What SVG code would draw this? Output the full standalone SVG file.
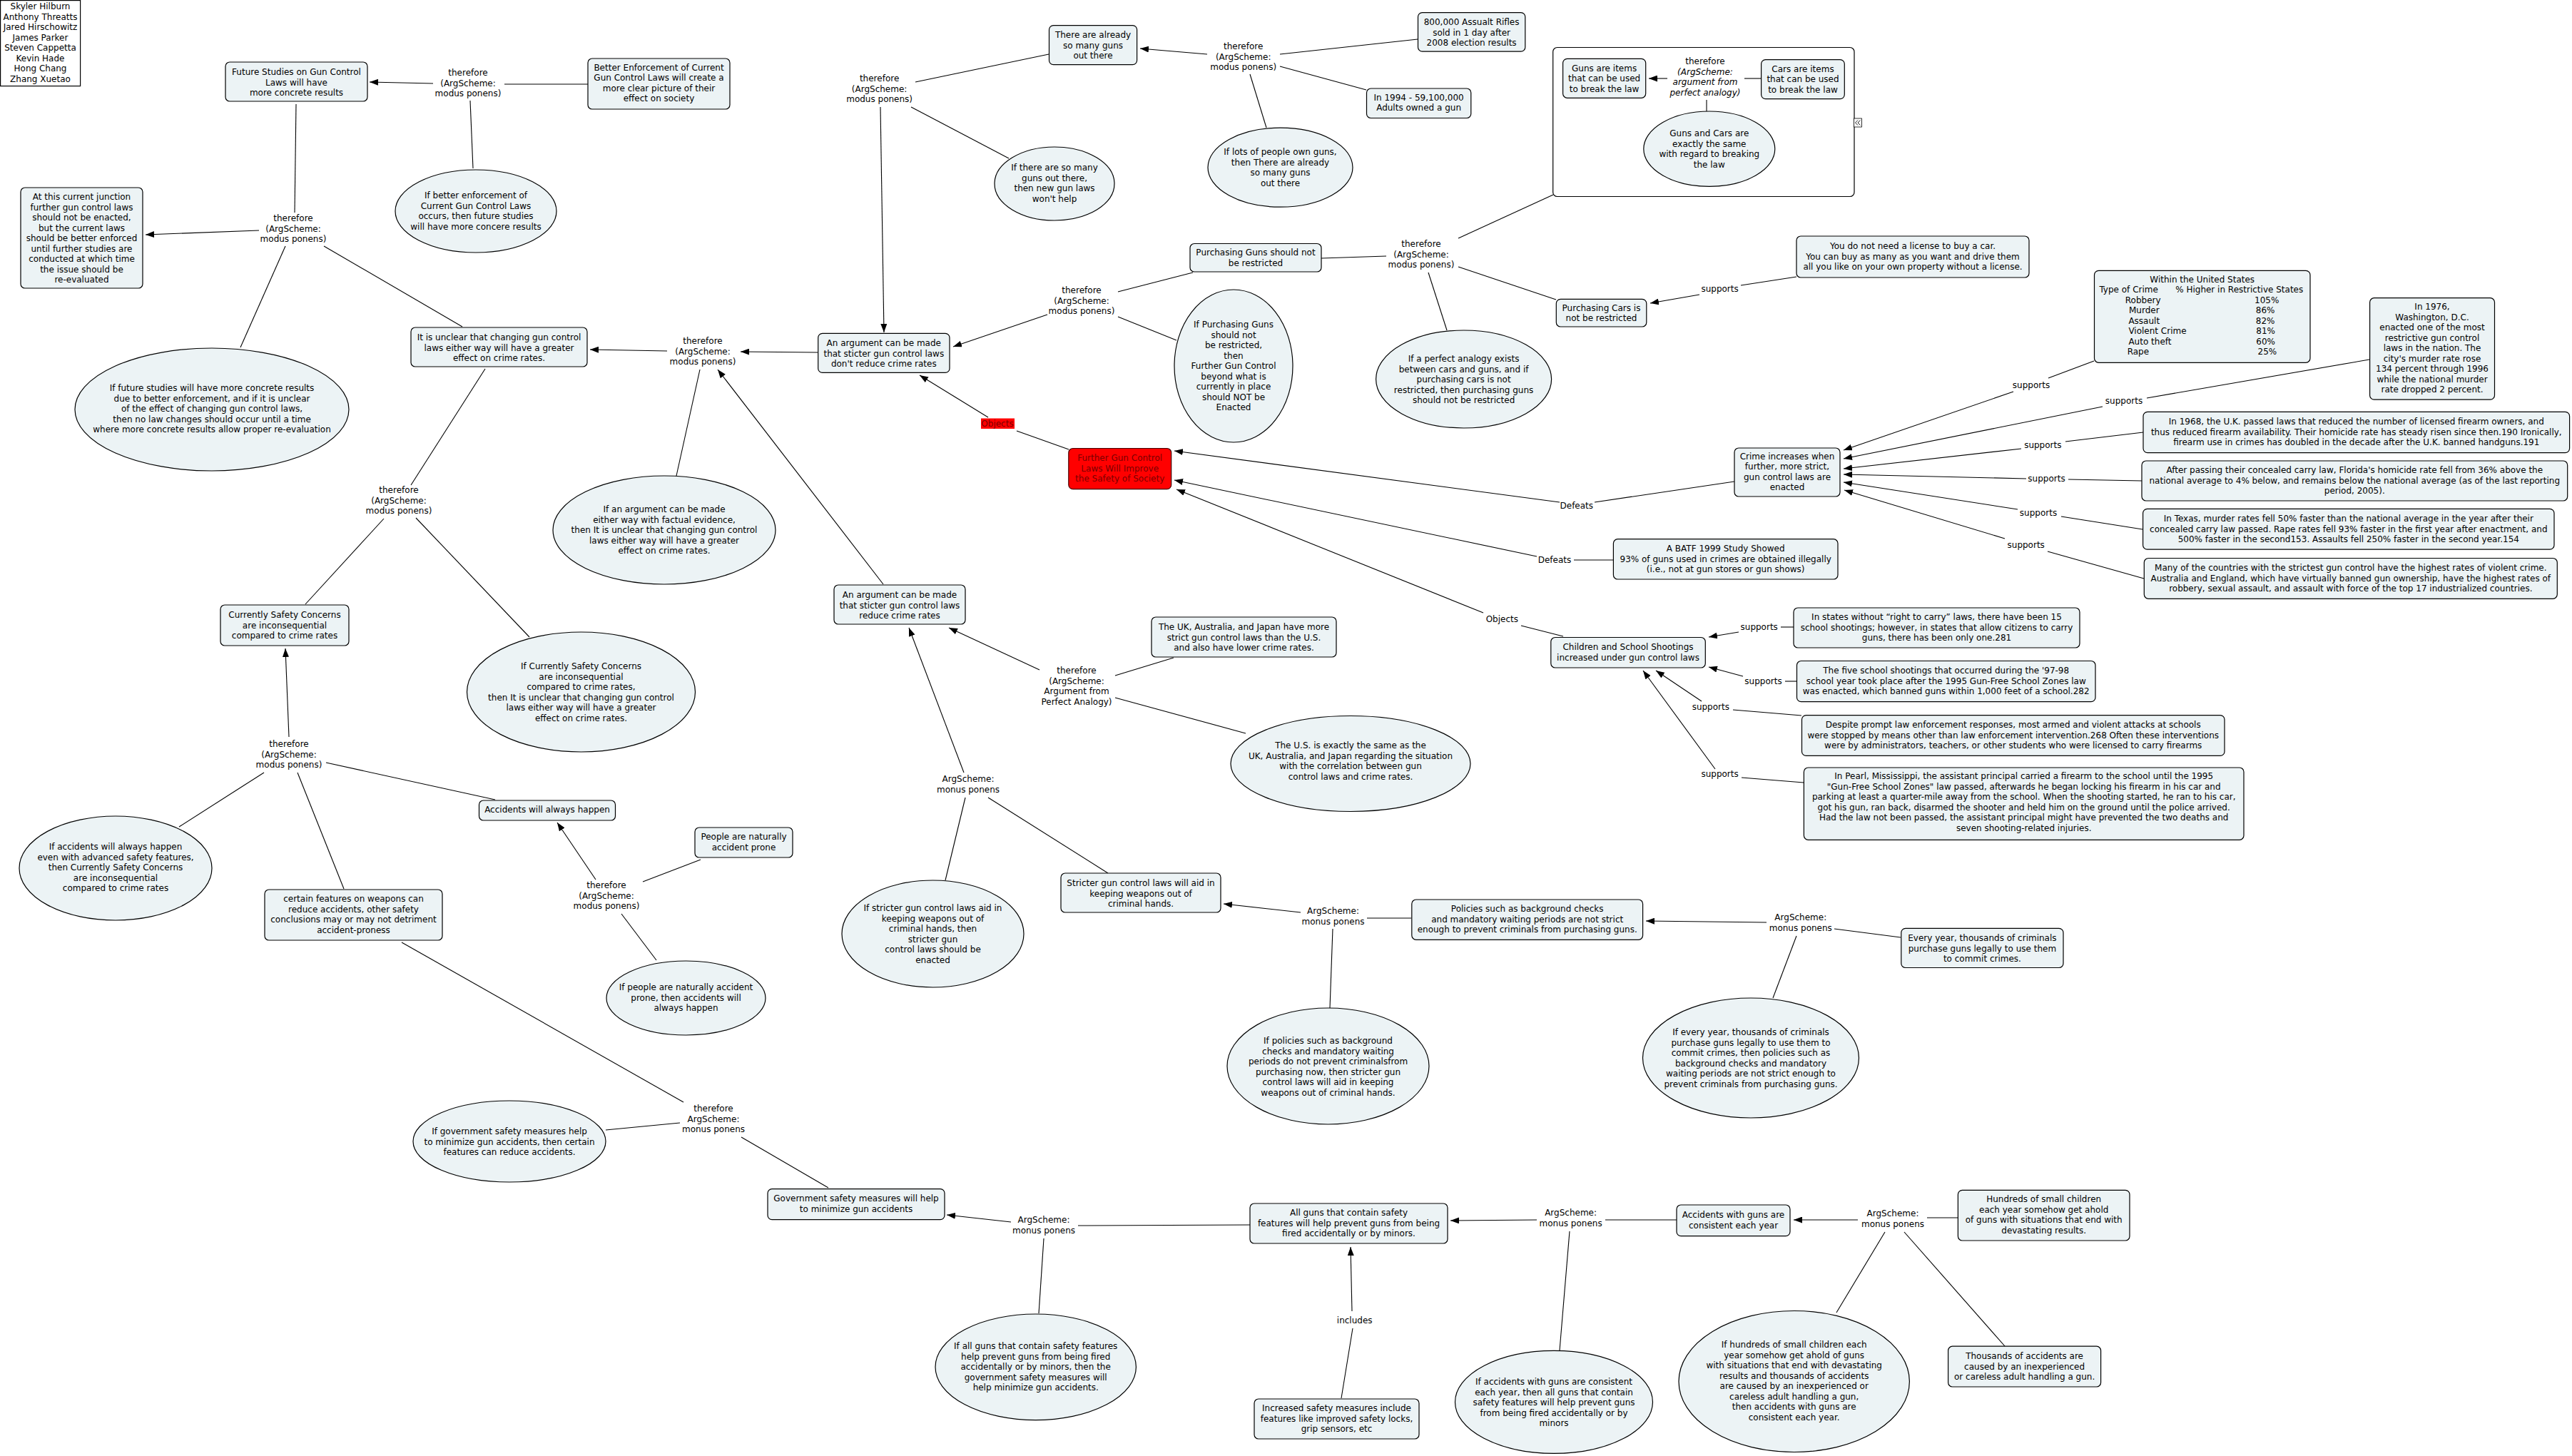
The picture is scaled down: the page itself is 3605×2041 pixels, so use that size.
<svg xmlns="http://www.w3.org/2000/svg" width="3605" height="2041" viewBox="0 0 3605 2041">
<defs>
<marker id="ah" viewBox="0 0 12 9" refX="12" refY="4.5" markerWidth="12" markerHeight="9" markerUnits="userSpaceOnUse" orient="auto"><path d="M0,0 L12,4.5 L0,9 z" fill="#000"/></marker>
</defs>
<style>
.n{fill:#ECF3F5;stroke:#000;stroke-width:1.2}
.w{fill:#fff;stroke:#000;stroke-width:1.2}
.r{fill:#FF0000;stroke:#400;stroke-width:1.2}
text{font-family:"DejaVu Sans",Verdana,sans-serif;font-size:12px;fill:#000;text-anchor:middle}
.s{text-anchor:start}
.i{font-style:italic}
.dr{fill:#7A0000}
#connectors line{stroke:#000;stroke-width:1.1;fill:none}
#connectors .a{marker-end:url(#ah)}
</style>
<rect x="0" y="0" width="3605" height="2041" fill="#fff"/>

<g id="n_container"><rect class="w" x="2176.7" y="66.5" width="422.3" height="209" rx="6"/>
<rect x="2598.5" y="166" width="11" height="12" fill="#fff" stroke="#000" stroke-width="0.8"/>
<path d="M2604,168.5 L2600.5,172 L2604,175.5 M2607.5,168.5 L2604,172 L2607.5,175.5" fill="none" stroke="#000" stroke-width="0.9"/></g>

<g id="connectors">
<line class="a" x1="607" y1="117" x2="518" y2="115"/>
<line x1="824" y1="118" x2="707" y2="118"/>
<line x1="663" y1="236" x2="659" y2="141"/>
<line x1="415" y1="146" x2="413" y2="298"/>
<line class="a" x1="363" y1="323" x2="204" y2="329"/>
<line x1="400" y1="345" x2="337" y2="487"/>
<line x1="454" y1="345" x2="648" y2="458"/>
<line class="a" x1="935" y1="492" x2="827" y2="490"/>
<line x1="680" y1="517" x2="576" y2="680"/>
<line x1="538" y1="727" x2="428" y2="847"/>
<line x1="583" y1="726" x2="742" y2="893"/>
<line class="a" x1="405" y1="1033" x2="400" y2="909"/>
<line x1="370" y1="1083" x2="251" y2="1159"/>
<line x1="417" y1="1083" x2="482" y2="1246"/>
<line x1="457" y1="1069" x2="694" y2="1121"/>
<line class="a" x1="835" y1="1233" x2="781" y2="1153"/>
<line x1="901" y1="1236" x2="982" y2="1205"/>
<line x1="871" y1="1281" x2="920" y2="1346"/>
<line x1="563" y1="1321" x2="958" y2="1545"/>
<line x1="953" y1="1574" x2="849" y2="1584"/>
<line x1="1039" y1="1594" x2="1161" y2="1665"/>
<line class="a" x1="1417" y1="1713" x2="1327" y2="1703"/>
<line x1="1752" y1="1717" x2="1511" y2="1718"/>
<line x1="1463" y1="1736" x2="1456" y2="1841"/>
<line class="a" x1="2154" y1="1710" x2="2033" y2="1711"/>
<line x1="2350" y1="1710" x2="2250" y2="1710"/>
<line x1="2200" y1="1726" x2="2186" y2="1893"/>
<line class="a" x1="1895" y1="1838" x2="1893" y2="1748"/>
<line x1="1880" y1="1960" x2="1896" y2="1862"/>
<line class="a" x1="2604" y1="1710" x2="2514" y2="1710"/>
<line x1="2744" y1="1707" x2="2701" y2="1707"/>
<line x1="2642" y1="1727" x2="2574" y2="1840"/>
<line x1="2669" y1="1727" x2="2810" y2="1887"/>
<line class="a" x1="1823" y1="1279" x2="1715" y2="1267"/>
<line x1="1916" y1="1287" x2="1978" y2="1287"/>
<line x1="1868" y1="1302" x2="1864" y2="1413"/>
<line class="a" x1="2476" y1="1293" x2="2307" y2="1291"/>
<line x1="2664" y1="1314" x2="2571" y2="1302"/>
<line x1="2518" y1="1312" x2="2485" y2="1399"/>
<line class="a" x1="1351" y1="1083" x2="1274" y2="880"/>
<line x1="1353" y1="1118" x2="1325" y2="1234"/>
<line x1="1385" y1="1118" x2="1553" y2="1224"/>
<line class="a" x1="1457" y1="939" x2="1330" y2="880"/>
<line x1="1645" y1="922" x2="1563" y2="947"/>
<line x1="1563" y1="978" x2="1746" y2="1028"/>
<line class="a" x1="1238" y1="819" x2="1006" y2="518"/>
<line class="a" x1="1146" y1="494" x2="1038" y2="493"/>
<line x1="981" y1="518" x2="948" y2="667"/>
<line x1="1283" y1="115" x2="1470" y2="76"/>
<line x1="1277" y1="150" x2="1414" y2="222"/>
<line class="a" x1="1234" y1="150" x2="1239" y2="466"/>
<line class="a" x1="1692" y1="76" x2="1598" y2="68"/>
<line x1="1987" y1="55" x2="1794" y2="76"/>
<line x1="1915" y1="126" x2="1794" y2="93"/>
<line x1="1752" y1="104" x2="1775" y2="179"/>
<line class="a" x1="1468" y1="441" x2="1336" y2="486"/>
<line x1="1672" y1="382" x2="1567" y2="409"/>
<line x1="1567" y1="444" x2="1649" y2="477"/>
<line class="a" x1="1385" y1="585" x2="1289" y2="526"/>
<line x1="1498" y1="630" x2="1425" y2="604"/>
<line x1="1943" y1="359" x2="1852" y2="362"/>
<line x1="2044" y1="334" x2="2177" y2="273"/>
<line x1="2044" y1="374" x2="2181" y2="420"/>
<line x1="2002" y1="382" x2="2028" y2="463"/>
<line class="a" x1="2382" y1="413" x2="2313" y2="425"/>
<line x1="2518" y1="388" x2="2440" y2="400"/>
<line class="a" x1="2337" y1="110" x2="2311" y2="110"/>
<line x1="2468" y1="110" x2="2445" y2="110"/>
<line x1="2392" y1="140" x2="2392" y2="156"/>
<line x1="2431" y1="675" x2="2235" y2="704"/>
<line class="a" x1="2186" y1="704" x2="1646" y2="632"/>
<line x1="2261" y1="785" x2="2206" y2="785"/>
<line class="a" x1="2154" y1="780" x2="1646" y2="673"/>
<line x1="2191" y1="892" x2="2132" y2="877"/>
<line class="a" x1="2079" y1="859" x2="1649" y2="686"/>
<line x1="2935" y1="506" x2="2871" y2="530"/>
<line class="a" x1="2822" y1="549" x2="2584" y2="631"/>
<line x1="3321" y1="504" x2="3009" y2="558"/>
<line class="a" x1="2947" y1="570" x2="2584" y2="643"/>
<line x1="3004" y1="606" x2="2895" y2="619"/>
<line class="a" x1="2833" y1="629" x2="2584" y2="657"/>
<line x1="3002" y1="674" x2="2899" y2="672"/>
<line class="a" x1="2840" y1="671" x2="2584" y2="665"/>
<line x1="3003" y1="742" x2="2889" y2="724"/>
<line class="a" x1="2828" y1="714" x2="2584" y2="676"/>
<line x1="3005" y1="811" x2="2870" y2="773"/>
<line class="a" x1="2810" y1="755" x2="2585" y2="687"/>
<line x1="2514" y1="879" x2="2496" y2="879"/>
<line class="a" x1="2437" y1="886" x2="2395" y2="893"/>
<line x1="2518" y1="955" x2="2502" y2="955"/>
<line class="a" x1="2443" y1="948" x2="2395" y2="935"/>
<line x1="2525" y1="1003" x2="2429" y2="995"/>
<line class="a" x1="2385" y1="983" x2="2321" y2="940"/>
<line x1="2528" y1="1097" x2="2441" y2="1090"/>
<line class="a" x1="2404" y1="1078" x2="2303" y2="940"/>
</g>

<g id="labels">
<text x="656" y="106.2">therefore<tspan x="656" dy="14.5">(ArgScheme:</tspan><tspan x="656" dy="14.5">modus ponens)</tspan></text>
<text x="411" y="310">therefore<tspan x="411" dy="14.5">(ArgScheme:</tspan><tspan x="411" dy="14.5">modus ponens)</tspan></text>
<text x="559" y="691">therefore<tspan x="559" dy="14.5">(ArgScheme:</tspan><tspan x="559" dy="14.5">modus ponens)</tspan></text>
<text x="405" y="1047">therefore<tspan x="405" dy="14.5">(ArgScheme:</tspan><tspan x="405" dy="14.5">modus ponens)</tspan></text>
<text x="850" y="1245">therefore<tspan x="850" dy="14.5">(ArgScheme:</tspan><tspan x="850" dy="14.5">modus ponens)</tspan></text>
<text x="1000" y="1558">therefore<tspan x="1000" dy="14.5">ArgScheme:</tspan><tspan x="1000" dy="14.5">monus ponens</tspan></text>
<text x="1463" y="1714">ArgScheme:<tspan x="1463" dy="14.5">monus ponens</tspan></text>
<text x="2201.6" y="1704">ArgScheme:<tspan x="2201.6" dy="14.5">monus ponens</tspan></text>
<text x="2653" y="1705">ArgScheme:<tspan x="2653" dy="14.5">monus ponens</tspan></text>
<text x="1898.7" y="1855">includes</text>
<text x="1868.5" y="1281">ArgScheme:<tspan x="1868.5" dy="14.5">monus ponens</tspan></text>
<text x="2523.8" y="1290">ArgScheme:<tspan x="2523.8" dy="14.5">monus ponens</tspan></text>
<text x="1357" y="1096">ArgScheme:<tspan x="1357" dy="14.5">monus ponens</tspan></text>
<text x="1509" y="944">therefore<tspan x="1509" dy="14.5">(ArgScheme:</tspan><tspan x="1509" dy="14.5">Argument from</tspan><tspan x="1509" dy="14.5">Perfect Analogy)</tspan></text>
<text x="985" y="482">therefore<tspan x="985" dy="14.5">(ArgScheme:</tspan><tspan x="985" dy="14.5">modus ponens)</tspan></text>
<text x="1232.6" y="114">therefore<tspan x="1232.6" dy="14.5">(ArgScheme:</tspan><tspan x="1232.6" dy="14.5">modus ponens)</tspan></text>
<text x="1742.7" y="69">therefore<tspan x="1742.7" dy="14.5">(ArgScheme:</tspan><tspan x="1742.7" dy="14.5">modus ponens)</tspan></text>
<text x="1516" y="411">therefore<tspan x="1516" dy="14.5">(ArgScheme:</tspan><tspan x="1516" dy="14.5">modus ponens)</tspan></text>
<rect x="1375" y="586.5" width="47" height="14.5" fill="#FF0000"/>
<text x="1398" y="597.5" class="dr">Objects</text>
<text x="1992" y="346">therefore<tspan x="1992" dy="14.5">(ArgScheme:</tspan><tspan x="1992" dy="14.5">modus ponens)</tspan></text>
<text x="2390" y="90">therefore<tspan x="2390" dy="14.5" class="i">(ArgScheme:</tspan><tspan x="2390" dy="14.5" class="i">argument from</tspan><tspan x="2390" dy="14.5" class="i">perfect analogy)</tspan></text>
<text x="2410.6" y="409.3">supports</text>
<text x="2209.8" y="713">Defeats</text>
<text x="2179" y="788.7">Defeats</text>
<text x="2105.3" y="872">Objects</text>
<text x="2847" y="543.6">supports</text>
<text x="2977" y="566.4">supports</text>
<text x="2863.3" y="627.6">supports</text>
<text x="2868.5" y="674.7">supports</text>
<text x="2857" y="722.7">supports</text>
<text x="2839.7" y="768">supports</text>
<text x="2465.7" y="883.4">supports</text>
<text x="2471.5" y="958.6">supports</text>
<text x="2397.8" y="994.7">supports</text>
<text x="2410.6" y="1089.3">supports</text>
</g>

<g id="n_authors"><rect class="w" x="0.6" y="0.6" width="112" height="120"/>
<text x="56.5" y="13">Skyler Hilburn<tspan x="56.5" dy="14.5">Anthony Threatts</tspan><tspan x="56.5" dy="14.5">Jared Hirschowitz</tspan><tspan x="56.5" dy="14.5">James Parker</tspan><tspan x="56.5" dy="14.5">Steven Cappetta</tspan><tspan x="56.5" dy="14.5">Kevin Hade</tspan><tspan x="56.5" dy="14.5">Hong Chang</tspan><tspan x="56.5" dy="14.5">Zhang Xuetao</tspan></text></g>

<g id="n_future"><rect class="n" x="316" y="87" width="199" height="55" rx="6"/>
<text x="415.5" y="105">Future Studies on Gun Control<tspan x="415.5" dy="14.5">Laws will have</tspan><tspan x="415.5" dy="14.5">more concrete results</tspan></text></g>

<g id="n_better"><rect class="n" x="824" y="82" width="199" height="71" rx="6"/>
<text x="923.5" y="98.9">Better Enforcement of Current<tspan x="923.5" dy="14.5">Gun Control Laws will create a</tspan><tspan x="923.5" dy="14.5">more clear picture of their</tspan><tspan x="923.5" dy="14.5">effect on society</tspan></text></g>

<g id="n_ell_better"><ellipse class="n" cx="667" cy="296" rx="113" ry="58"/>
<text x="667" y="278.3">If better enforcement of<tspan x="667" dy="14.5">Current Gun Control Laws</tspan><tspan x="667" dy="14.5">occurs, then future studies</tspan><tspan x="667" dy="14.5">will have more concere results</tspan></text></g>

<g id="n_atthis"><rect class="n" x="29" y="263" width="171" height="141" rx="6"/>
<text x="114.5" y="280">At this current junction<tspan x="114.5" dy="14.5">further gun control laws</tspan><tspan x="114.5" dy="14.5">should not be enacted,</tspan><tspan x="114.5" dy="14.5">but the current laws</tspan><tspan x="114.5" dy="14.5">should be better enforced</tspan><tspan x="114.5" dy="14.5">until further studies are</tspan><tspan x="114.5" dy="14.5">conducted at which time</tspan><tspan x="114.5" dy="14.5">the issue should be</tspan><tspan x="114.5" dy="14.5">re-evaluated</tspan></text></g>

<g id="n_ell_future"><ellipse class="n" cx="297" cy="574" rx="192" ry="86"/>
<text x="297" y="548.3">If future studies will have more concrete results<tspan x="297" dy="14.5">due to better enforcement, and if it is unclear</tspan><tspan x="297" dy="14.5">of the effect of changing gun control laws,</tspan><tspan x="297" dy="14.5">then no law changes should occur until a time</tspan><tspan x="297" dy="14.5">where more concrete results allow proper re-evaluation</tspan></text></g>

<g id="n_unclear"><rect class="n" x="576" y="459" width="247" height="55" rx="6"/>
<text x="699.5" y="477">It is unclear that changing gun control<tspan x="699.5" dy="14.5">laws either way will have a greater</tspan><tspan x="699.5" dy="14.5">effect on crime rates.</tspan></text></g>

<g id="n_ell_argument"><ellipse class="n" cx="931" cy="743" rx="156" ry="76"/>
<text x="931" y="718">If an argument can be made<tspan x="931" dy="14.5">either way with factual evidence,</tspan><tspan x="931" dy="14.5">then It is unclear that changing gun control</tspan><tspan x="931" dy="14.5">laws either way will have a greater</tspan><tspan x="931" dy="14.5">effect on crime rates.</tspan></text></g>

<g id="n_currently"><rect class="n" x="309" y="848" width="180" height="57" rx="6"/>
<text x="399" y="866">Currently Safety Concerns<tspan x="399" dy="14.5">are inconsequential</tspan><tspan x="399" dy="14.5">compared to crime rates</tspan></text></g>

<g id="n_ell_currently"><ellipse class="n" cx="814.5" cy="970" rx="160" ry="84"/>
<text x="814.5" y="938">If Currently Safety Concerns<tspan x="814.5" dy="14.5">are inconsequential</tspan><tspan x="814.5" dy="14.5">compared to crime rates,</tspan><tspan x="814.5" dy="14.5">then It is unclear that changing gun control</tspan><tspan x="814.5" dy="14.5">laws either way will have a greater</tspan><tspan x="814.5" dy="14.5">effect on crime rates.</tspan></text></g>

<g id="n_ell_accidents"><ellipse class="n" cx="162" cy="1217" rx="135" ry="73"/>
<text x="162" y="1191.3">If accidents will always happen<tspan x="162" dy="14.5">even with advanced safety features,</tspan><tspan x="162" dy="14.5">then Currently Safety Concerns</tspan><tspan x="162" dy="14.5">are inconsequential</tspan><tspan x="162" dy="14.5">compared to crime rates</tspan></text></g>

<g id="n_certain"><rect class="n" x="371" y="1247" width="249" height="71" rx="6"/>
<text x="495.5" y="1264">certain features on weapons can<tspan x="495.5" dy="14.5">reduce accidents, other safety</tspan><tspan x="495.5" dy="14.5">conclusions may or may not detriment</tspan><tspan x="495.5" dy="14.5">accident-proness</tspan></text></g>

<g id="n_always"><rect class="n" x="671.5" y="1122" width="191" height="28" rx="6"/>
<text x="767" y="1139">Accidents will always happen</text></g>

<g id="n_people"><rect class="n" x="974" y="1160" width="137" height="42" rx="6"/>
<text x="1042.5" y="1177.3">People are naturally<tspan x="1042.5" dy="14.5">accident prone</tspan></text></g>

<g id="n_ell_people"><ellipse class="n" cx="961.5" cy="1399" rx="111.5" ry="52"/>
<text x="961.5" y="1388.2">If people are naturally accident<tspan x="961.5" dy="14.5">prone, then accidents will</tspan><tspan x="961.5" dy="14.5">always happen</tspan></text></g>

<g id="n_ell_gov"><ellipse class="n" cx="714" cy="1600" rx="135" ry="57"/>
<text x="714" y="1590">If government safety measures help<tspan x="714" dy="14.5">to minimize gun accidents, then certain</tspan><tspan x="714" dy="14.5">features can reduce accidents.</tspan></text></g>

<g id="n_gov"><rect class="n" x="1076" y="1666.6" width="248" height="43" rx="6"/>
<text x="1200" y="1684">Government safety measures will help<tspan x="1200" dy="14.5">to minimize gun accidents</tspan></text></g>

<g id="n_ell_allguns"><ellipse class="n" cx="1451.7" cy="1916.3" rx="140.7" ry="74.3"/>
<text x="1451.7" y="1891">If all guns that contain safety features<tspan x="1451.7" dy="14.5">help prevent guns from being fired</tspan><tspan x="1451.7" dy="14.5">accidentally or by minors, then the</tspan><tspan x="1451.7" dy="14.5">government safety measures will</tspan><tspan x="1451.7" dy="14.5">help minimize gun accidents.</tspan></text></g>

<g id="n_allguns"><rect class="n" x="1752" y="1687" width="277" height="56" rx="6"/>
<text x="1890.5" y="1704.3">All guns that contain safety<tspan x="1890.5" dy="14.5">features will help prevent guns from being</tspan><tspan x="1890.5" dy="14.5">fired accidentally or by minors.</tspan></text></g>

<g id="n_increased"><rect class="n" x="1758" y="1961" width="231" height="56" rx="6"/>
<text x="1873.5" y="1978">Increased safety measures include<tspan x="1873.5" dy="14.5">features like improved safety locks,</tspan><tspan x="1873.5" dy="14.5">grip sensors, etc</tspan></text></g>

<g id="n_accconsistent"><rect class="n" x="2350" y="1689" width="159" height="43.6" rx="6"/>
<text x="2429.5" y="1707.3">Accidents with guns are<tspan x="2429.5" dy="14.5">consistent each year</tspan></text></g>

<g id="n_ell_acc"><ellipse class="n" cx="2178" cy="1965.4" rx="138.5" ry="72"/>
<text x="2178" y="1941">If accidents with guns are consistent<tspan x="2178" dy="14.5">each year, then all guns that contain</tspan><tspan x="2178" dy="14.5">safety features will help prevent guns</tspan><tspan x="2178" dy="14.5">from being fired accidentally or by</tspan><tspan x="2178" dy="14.5">minors</tspan></text></g>

<g id="n_ell_hundreds"><ellipse class="n" cx="2514.7" cy="1936.5" rx="161.7" ry="99"/>
<text x="2514.7" y="1889">If hundreds of small children each<tspan x="2514.7" dy="14.5">year somehow get ahold of guns</tspan><tspan x="2514.7" dy="14.5">with situations that end with devastating</tspan><tspan x="2514.7" dy="14.5">results and thousands of accidents</tspan><tspan x="2514.7" dy="14.5">are caused by an inexperienced or</tspan><tspan x="2514.7" dy="14.5">careless adult handling a gun,</tspan><tspan x="2514.7" dy="14.5">then accidents with guns are</tspan><tspan x="2514.7" dy="14.5">consistent each year.</tspan></text></g>

<g id="n_hundreds"><rect class="n" x="2744.4" y="1668.4" width="240.6" height="70.6" rx="6"/>
<text x="2864.7" y="1685.3">Hundreds of small children<tspan x="2864.7" dy="14.5">each year somehow get ahold</tspan><tspan x="2864.7" dy="14.5">of guns with situations that end with</tspan><tspan x="2864.7" dy="14.5">devastating results.</tspan></text></g>

<g id="n_thousands"><rect class="n" x="2730.6" y="1887.2" width="214" height="56.8" rx="6"/>
<text x="2837.6" y="1905">Thousands of accidents are<tspan x="2837.6" dy="14.5">caused by an inexperienced</tspan><tspan x="2837.6" dy="14.5">or careless adult handling a gun.</tspan></text></g>

<g id="n_ell_policies"><ellipse class="n" cx="1861.5" cy="1494.5" rx="141.5" ry="81.5"/>
<text x="1861.5" y="1463.3">If policies such as background<tspan x="1861.5" dy="14.5">checks and mandatory waiting</tspan><tspan x="1861.5" dy="14.5">periods do not prevent criminalsfrom</tspan><tspan x="1861.5" dy="14.5">purchasing now, then stricter gun</tspan><tspan x="1861.5" dy="14.5">control laws will aid in keeping</tspan><tspan x="1861.5" dy="14.5">weapons out of criminal hands.</tspan></text></g>

<g id="n_policies"><rect class="n" x="1978.8" y="1261" width="323.8" height="56.3" rx="6"/>
<text x="2140.7" y="1278.3">Policies such as background checks<tspan x="2140.7" dy="14.5">and mandatory waiting periods are not strict</tspan><tspan x="2140.7" dy="14.5">enough to prevent criminals from purchasing guns.</tspan></text></g>

<g id="n_ell_every"><ellipse class="n" cx="2454" cy="1483" rx="151.5" ry="84"/>
<text x="2454" y="1451.3">If every year, thousands of criminals<tspan x="2454" dy="14.5">purchase guns legally to use them to</tspan><tspan x="2454" dy="14.5">commit crimes, then policies such as</tspan><tspan x="2454" dy="14.5">background checks and mandatory</tspan><tspan x="2454" dy="14.5">waiting periods are not strict enough to</tspan><tspan x="2454" dy="14.5">prevent criminals from purchasing guns.</tspan></text></g>

<g id="n_every"><rect class="n" x="2664.8" y="1301.4" width="227.2" height="55.1" rx="6"/>
<text x="2778.4" y="1319">Every year, thousands of criminals<tspan x="2778.4" dy="14.5">purchase guns legally to use them</tspan><tspan x="2778.4" dy="14.5">to commit crimes.</tspan></text></g>

<g id="n_stricter"><rect class="n" x="1487" y="1224" width="224" height="55" rx="6"/>
<text x="1599" y="1242.3">Stricter gun control laws will aid in<tspan x="1599" dy="14.5">keeping weapons out of</tspan><tspan x="1599" dy="14.5">criminal hands.</tspan></text></g>

<g id="n_ell_stricter"><ellipse class="n" cx="1307.5" cy="1309" rx="127.5" ry="75"/>
<text x="1307.5" y="1277.3">If stricter gun control laws aid in<tspan x="1307.5" dy="14.5">keeping weapons out of</tspan><tspan x="1307.5" dy="14.5">criminal hands, then</tspan><tspan x="1307.5" dy="14.5">stricter gun</tspan><tspan x="1307.5" dy="14.5">control laws should be</tspan><tspan x="1307.5" dy="14.5">enacted</tspan></text></g>

<g id="n_reduce"><rect class="n" x="1169" y="820" width="184" height="55" rx="6"/>
<text x="1261" y="838">An argument can be made<tspan x="1261" dy="14.5">that sticter gun control laws</tspan><tspan x="1261" dy="14.5">reduce crime rates</tspan></text></g>

<g id="n_uk"><rect class="n" x="1614" y="865" width="259" height="56" rx="6"/>
<text x="1743.5" y="883">The UK, Australia, and Japan have more<tspan x="1743.5" dy="14.5">strict gun control laws than the U.S.</tspan><tspan x="1743.5" dy="14.5">and also have lower crime rates.</tspan></text></g>

<g id="n_ell_us"><ellipse class="n" cx="1893" cy="1070.5" rx="168" ry="67"/>
<text x="1893" y="1049.3">The U.S. is exactly the same as the<tspan x="1893" dy="14.5">UK, Australia, and Japan regarding the situation</tspan><tspan x="1893" dy="14.5">with the correlation between gun</tspan><tspan x="1893" dy="14.5">control laws and crime rates.</tspan></text></g>

<g id="n_dont"><rect class="n" x="1146.7" y="467.4" width="184.3" height="55" rx="6"/>
<text x="1238.8" y="485">An argument can be made<tspan x="1238.8" dy="14.5">that sticter gun control laws</tspan><tspan x="1238.8" dy="14.5">don't reduce crime rates</tspan></text></g>

<g id="n_further"><rect class="r" x="1497.8" y="628.5" width="143.9" height="57.2" rx="6"/>
<text x="1569.7" y="646" class="dr">Further Gun Control<tspan x="1569.7" dy="14.5">Laws Will Improve</tspan><tspan x="1569.7" dy="14.5">the Safety of Society</tspan></text></g>

<g id="n_already"><rect class="n" x="1470.5" y="35.6" width="123.1" height="55.1" rx="6"/>
<text x="1532" y="53.1">There are already<tspan x="1532" dy="14.5">so many guns</tspan><tspan x="1532" dy="14.5">out there</tspan></text></g>

<g id="n_ell_somany"><ellipse class="n" cx="1478" cy="257.5" rx="84" ry="51.5"/>
<text x="1478" y="239">If there are so many<tspan x="1478" dy="14.5">guns out there,</tspan><tspan x="1478" dy="14.5">then new gun laws</tspan><tspan x="1478" dy="14.5">won't help</tspan></text></g>

<g id="n_ell_lots"><ellipse class="n" cx="1794.5" cy="234.7" rx="101.5" ry="55.5"/>
<text x="1794.5" y="217">If lots of people own guns,<tspan x="1794.5" dy="14.5">then There are already</tspan><tspan x="1794.5" dy="14.5">so many guns</tspan><tspan x="1794.5" dy="14.5">out there</tspan></text></g>

<g id="n_rifles"><rect class="n" x="1987.5" y="17.6" width="150.3" height="54.6" rx="6"/>
<text x="2062.6" y="35">800,000 Assualt Rifles<tspan x="2062.6" dy="14.5">sold in 1 day after</tspan><tspan x="2062.6" dy="14.5">2008 election results</tspan></text></g>

<g id="n_1994"><rect class="n" x="1915.5" y="124" width="146.3" height="41.5" rx="6"/>
<text x="1988.6" y="140.7">In 1994 - 59,100,000<tspan x="1988.6" dy="14.5">Adults owned a gun</tspan></text></g>

<g id="n_gunsitems"><rect class="n" x="2190.6" y="82.3" width="116.1" height="55" rx="6"/>
<text x="2248.6" y="99.5">Guns are items<tspan x="2248.6" dy="14.5">that can be used</tspan><tspan x="2248.6" dy="14.5">to break the law</tspan></text></g>

<g id="n_carsitems"><rect class="n" x="2468.6" y="83.6" width="116.7" height="55" rx="6"/>
<text x="2527" y="100.8">Cars are items<tspan x="2527" dy="14.5">that can be used</tspan><tspan x="2527" dy="14.5">to break the law</tspan></text></g>

<g id="n_ell_gunscars"><ellipse class="n" cx="2395.8" cy="208.7" rx="92" ry="52.7"/>
<text x="2395.8" y="191">Guns and Cars are<tspan x="2395.8" dy="14.5">exactly the same</tspan><tspan x="2395.8" dy="14.5">with regard to breaking</tspan><tspan x="2395.8" dy="14.5">the law</tspan></text></g>

<g id="n_purchguns"><rect class="n" x="1668" y="341.5" width="184" height="39.5" rx="6"/>
<text x="1760" y="358">Purchasing Guns should not<tspan x="1760" dy="14.5">be restricted</tspan></text></g>

<g id="n_ell_purch"><ellipse class="n" cx="1729" cy="513" rx="83" ry="107"/>
<text x="1729" y="459.3">If Purchasing Guns<tspan x="1729" dy="14.5">should not</tspan><tspan x="1729" dy="14.5">be restricted,</tspan><tspan x="1729" dy="14.5">then</tspan><tspan x="1729" dy="14.5">Further Gun Control</tspan><tspan x="1729" dy="14.5">beyond what is</tspan><tspan x="1729" dy="14.5">currently in place</tspan><tspan x="1729" dy="14.5">should NOT be</tspan><tspan x="1729" dy="14.5">Enacted</tspan></text></g>

<g id="n_purchcars"><rect class="n" x="2181.3" y="419.4" width="126.5" height="38.6" rx="6"/>
<text x="2244.5" y="435.8">Purchasing Cars is<tspan x="2244.5" dy="14.5">not be restricted</tspan></text></g>

<g id="n_license"><rect class="n" x="2518" y="331" width="326" height="58" rx="6"/>
<text x="2681" y="349">You do not need a license to buy a car.<tspan x="2681" dy="14.5">You can buy as many as you want and drive them</tspan><tspan x="2681" dy="14.5">all you like on your own property without a license.</tspan></text></g>

<g id="n_ell_analogy"><ellipse class="n" cx="2051.6" cy="531.5" rx="123" ry="68.5"/>
<text x="2051.6" y="507.3">If a perfect analogy exists<tspan x="2051.6" dy="14.5">between cars and guns, and if</tspan><tspan x="2051.6" dy="14.5">purchasing cars is not</tspan><tspan x="2051.6" dy="14.5">restricted, then purchasing guns</tspan><tspan x="2051.6" dy="14.5">should not be restricted</tspan></text></g>

<g id="n_crime"><rect class="n" x="2431" y="628" width="148" height="68" rx="6"/>
<text x="2505" y="643.8">Crime increases when<tspan x="2505" dy="14.5">further, more strict,</tspan><tspan x="2505" dy="14.5">gun control laws are</tspan><tspan x="2505" dy="14.5">enacted</tspan></text></g>

<g id="n_table"><rect class="n" x="2935.5" y="379.4" width="302.5" height="128.9" rx="6"/>
<text x="3086.7" y="395.7">Within the United States</text>
<text class="s" x="2942.4" y="410.2">Type of Crime</text><text class="s" x="3049.2" y="410.2">% Higher in Restrictive States</text>
<text class="s" x="2978.8" y="424.7">Robbery</text><text class="s" x="3160" y="424.7">105%</text>
<text class="s" x="2984" y="439.2">Murder</text><text class="s" x="3161.8" y="439.2">86%</text>
<text class="s" x="2983.4" y="453.7">Assault</text><text class="s" x="3161.8" y="453.7">82%</text>
<text class="s" x="2983.4" y="468.2">Violent Crime</text><text class="s" x="3162.3" y="468.2">81%</text>
<text class="s" x="2983.4" y="482.7">Auto theft</text><text class="s" x="3162.3" y="482.7">60%</text>
<text class="s" x="2981.7" y="497.2">Rape</text><text class="s" x="3164.6" y="497.2">25%</text></g>

<g id="n_dc"><rect class="n" x="3321.6" y="417.7" width="174.9" height="142.5" rx="6"/>
<text x="3409" y="434">In 1976,<tspan x="3409" dy="14.5">Washington, D.C.</tspan><tspan x="3409" dy="14.5">enacted one of the most</tspan><tspan x="3409" dy="14.5">restrictive gun control</tspan><tspan x="3409" dy="14.5">laws in the nation. The</tspan><tspan x="3409" dy="14.5">city's murder rate rose</tspan><tspan x="3409" dy="14.5">134 percent through 1996</tspan><tspan x="3409" dy="14.5">while the national murder</tspan><tspan x="3409" dy="14.5">rate dropped 2 percent.</tspan></text></g>

<g id="n_uk1968"><rect class="n" x="3004" y="577.4" width="597.6" height="57.2" rx="6"/>
<text x="3302.8" y="595.3">In 1968, the U.K. passed laws that reduced the number of licensed firearm owners, and<tspan x="3302.8" dy="14.5">thus reduced firearm availability. Their homicide rate has steady risen since then.190 Ironically,</tspan><tspan x="3302.8" dy="14.5">firearm use in crimes has doubled in the decade after the U.K. banned handguns.191</tspan></text></g>

<g id="n_florida"><rect class="n" x="3002" y="646" width="596.7" height="56" rx="6"/>
<text x="3300.3" y="663.3">After passing their concealed carry law, Florida's homicide rate fell from 36% above the<tspan x="3300.3" dy="14.5">national average to 4% below, and remains below the national average (as of the last reporting</tspan><tspan x="3300.3" dy="14.5">period, 2005).</tspan></text></g>

<g id="n_texas"><rect class="n" x="3003.6" y="713.4" width="576.4" height="56.8" rx="6"/>
<text x="3291.8" y="731.1">In Texas, murder rates fell 50% faster than the national average in the year after their<tspan x="3291.8" dy="14.5">concealed carry law passed. Rape rates fell 93% faster in the first year after enactment, and</tspan><tspan x="3291.8" dy="14.5">500% faster in the second153. Assaults fell 250% faster in the second year.154</tspan></text></g>

<g id="n_many"><rect class="n" x="3005.3" y="782.5" width="579" height="56.8" rx="6"/>
<text x="3294.8" y="800">Many of the countries with the strictest gun control have the highest rates of violent crime.<tspan x="3294.8" dy="14.5">Australia and England, which have virtually banned gun ownership, have the highest rates of</tspan><tspan x="3294.8" dy="14.5">robbery, sexual assault, and assault with force of the top 17 industrialized countries.</tspan></text></g>

<g id="n_batf"><rect class="n" x="2261.4" y="755.7" width="314.6" height="56.3" rx="6"/>
<text x="2418.7" y="773.2">A BATF 1999 Study Showed<tspan x="2418.7" dy="14.5">93% of guns used in crimes are obtained illegally</tspan><tspan x="2418.7" dy="14.5">(i.e., not at gun stores or gun shows)</tspan></text></g>

<g id="n_children"><rect class="n" x="2173.8" y="893.5" width="216.5" height="42.5" rx="6"/>
<text x="2282" y="911">Children and School Shootings<tspan x="2282" dy="14.5">increased under gun control laws</tspan></text></g>

<g id="n_states"><rect class="n" x="2514" y="852" width="401" height="56" rx="6"/>
<text x="2714.5" y="869.1">In states without “right to carry” laws, there have been 15<tspan x="2714.5" dy="14.5">school shootings; however, in states that allow citizens to carry</tspan><tspan x="2714.5" dy="14.5">guns, there has been only one.281</tspan></text></g>

<g id="n_five"><rect class="n" x="2518.5" y="926.5" width="418.5" height="57.2" rx="6"/>
<text x="2727.7" y="944.1">The five school shootings that occurred during the '97-98<tspan x="2727.7" dy="14.5">school year took place after the 1995 Gun-Free School Zones law</tspan><tspan x="2727.7" dy="14.5">was enacted, which banned guns within 1,000 feet of a school.282</tspan></text></g>

<g id="n_despite"><rect class="n" x="2525.5" y="1002.6" width="592.5" height="56.8" rx="6"/>
<text x="2821.7" y="1020.2">Despite prompt law enforcement responses, most armed and violent attacks at schools<tspan x="2821.7" dy="14.5">were stopped by means other than law enforcement intervention.268 Often these interventions</tspan><tspan x="2821.7" dy="14.5">were by administrators, teachers, or other students who were licensed to carry firearms</tspan></text></g>

<g id="n_pearl"><rect class="n" x="2528.4" y="1076" width="616.6" height="101.3" rx="6"/>
<text x="2836.7" y="1092">In Pearl, Mississippi, the assistant principal carried a firearm to the school until the 1995<tspan x="2836.7" dy="14.5">"Gun-Free School Zones" law passed, afterwards he began locking his firearm in his car and</tspan><tspan x="2836.7" dy="14.5">parking at least a quarter-mile away from the school. When the shooting started, he ran to his car,</tspan><tspan x="2836.7" dy="14.5">got his gun, ran back, disarmed the shooter and held him on the ground until the police arrived.</tspan><tspan x="2836.7" dy="14.5">Had the law not been passed, the assistant principal might have prevented the two deaths and</tspan><tspan x="2836.7" dy="14.5">seven shooting-related injuries.</tspan></text></g>
</svg>
